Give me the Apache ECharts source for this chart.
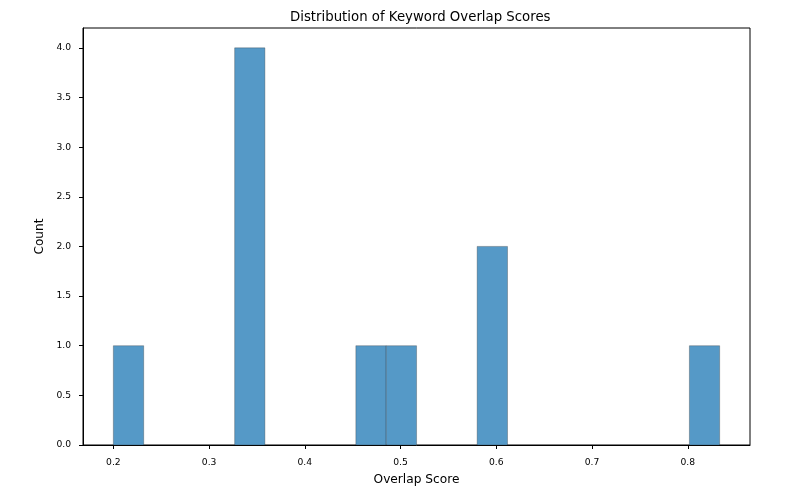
<!DOCTYPE html>
<html>
<head>
<meta charset="utf-8">
<script src="https://cdn.jsdelivr.net/npm/echarts@6/dist/echarts.min.js"></script>
<style>html,body{margin:0;padding:0;background:#fff}#c{width:811px;height:492px}</style>
</head>
<body>
<div id="c"></div>
<script>
// Histogram bins (left edge, right edge) and counts
var binLeft  = [0.2000, 0.3267, 0.4533, 0.4850, 0.5800, 0.8017];
var binRight = [0.2317, 0.3583, 0.4850, 0.5167, 0.6117, 0.8333];
var counts   = [1, 4, 1, 1, 2, 1];
var xTicks = [0.2, 0.3, 0.4, 0.5, 0.6, 0.7, 0.8];
var yTicks = [0, 0.5, 1.0, 1.5, 2.0, 2.5, 3.0, 3.5, 4.0];

var data = binLeft.map(function (l, i) { return [l, binRight[i], counts[i]]; });
var font = 'DejaVu Sans';
var chart = echarts.init(document.getElementById('c'));
chart.setOption({
  animation: false,
  title: {
    text: 'Distribution of Keyword Overlap Scores',
    left: 285, top: 6,
    textStyle: {fontFamily: font, fontSize: 13.3, fontWeight: 'normal', color: '#000'}
  },
  grid: {left: 83, right: 61, top: 28, bottom: 47, show: true, borderColor: '#000', borderWidth: 1, backgroundColor: 'transparent'},
  xAxis: {
    type: 'value', min: 0.1683, max: 0.865,
    name: 'Overlap Score', nameLocation: 'middle', nameGap: 29,
    nameTextStyle: {fontFamily: font, fontSize: 12.2, color: '#000'},
    axisLine: {show: true, lineStyle: {color: '#000', width: 1}},
    axisTick: {show: true, length: 4, customValues: xTicks, lineStyle: {color: '#000'}},
    axisLabel: {customValues: xTicks, fontFamily: font, fontSize: 9.2, color: '#000', margin: 13,
      formatter: function (v) { return v.toFixed(1); }},
    splitLine: {show: false}
  },
  yAxis: {
    type: 'value', min: 0, max: 4.2,
    name: 'Count', nameLocation: 'middle', nameGap: 37,
    nameTextStyle: {fontFamily: font, fontSize: 12.2, color: '#000'},
    axisLine: {show: true, lineStyle: {color: '#000', width: 1}},
    axisTick: {show: true, length: 4, customValues: yTicks, lineStyle: {color: '#000'}},
    axisLabel: {customValues: yTicks, fontFamily: font, fontSize: 9.2, color: '#000', margin: 12,
      formatter: function (v) { return v.toFixed(1); }},
    splitLine: {show: false}
  },
  series: [{
    type: 'custom',
    data: data,
    encode: {x: [0, 1], y: 2},
    renderItem: function (params, api) {
      var p0 = api.coord([api.value(0), api.value(2)]);
      var p1 = api.coord([api.value(1), 0]);
      return {
        type: 'rect',
        shape: {x: p0[0], y: p0[1], width: p1[0] - p0[0], height: p1[1] - p0[1]},
        style: {fill: '#5599c7', stroke: 'rgba(40,40,40,0.3)', lineWidth: 1}
      };
    }
  }]
});
</script>
</body>
</html>
